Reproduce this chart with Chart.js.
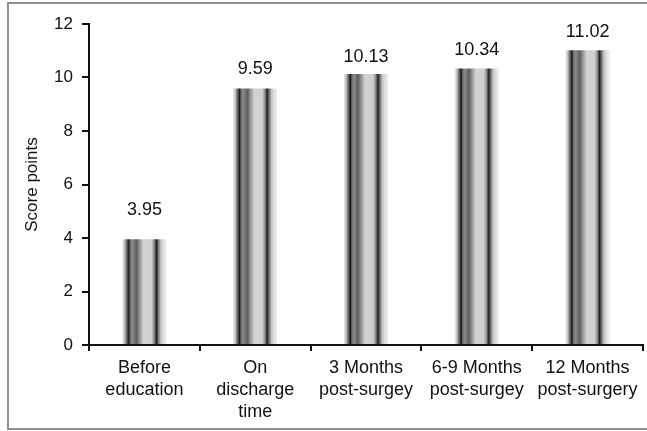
<!DOCTYPE html>
<html>
<head>
<meta charset="utf-8">
<script src="https://cdn.jsdelivr.net/npm/chart.js@4.4.0/dist/chart.umd.min.js"></script>
<style>
  html, body { margin: 0; padding: 0; background: #fff; }
  #wrap { width: 647px; height: 431px; }
</style>
</head>
<body>
<div id="wrap"><canvas id="c" width="647" height="431"></canvas></div>
<script>
// Mean score at each assessment point
const categories = [
  ["Before", "education"],
  ["On", "discharge", "time"],
  ["3 Months", "post-surgey"],
  ["6-9 Months", "post-surgey"],
  ["12 Months", "post-surgery"]
];
const scores = [3.95, 9.59, 10.13, 10.34, 11.02];
const yTicks = [0, 2, 4, 6, 8, 10, 12];

// Styling: how far each value label sits above its bar (px)
const labelLift = [29, 19, 17, 18, 18];

const FONT = "'Liberation Sans', Arial, sans-serif";
const BAR_FRACTION = 0.4;

// Cylindrical grey shading, left to right across each bar
const shadeStops = [
  [0.00, '#ececec'], [0.05, '#c4c4c4'], [0.10, '#6a6a6a'], [0.15, '#161616'],
  [0.18, '#6e6e6e'], [0.23, '#8a8a8a'], [0.32, '#5e5e5e'], [0.42, '#a8a8a8'],
  [0.48, '#d2d2d2'], [0.66, '#cfcfcf'], [0.72, '#8c8c8c'], [0.77, '#1e1e1e'],
  [0.81, '#6a6a6a'], [0.87, '#c6c6c6'], [0.94, '#e2e2e2'], [1.00, '#f0f0f0']
];

function barShade(ctx) {
  const chart = ctx.chart;
  const xs = chart.scales && chart.scales.x;
  if (!xs || ctx.dataIndex === undefined) return '#999';
  const cx = xs.getPixelForValue(ctx.dataIndex);
  const half = (xs.width / categories.length) * BAR_FRACTION / 2;
  if (!isFinite(cx) || !isFinite(half) || half <= 0) return '#999';
  const g = chart.ctx.createLinearGradient(cx - half, 0, cx + half, 0);
  shadeStops.forEach(([p, c]) => g.addColorStop(p, c));
  return g;
}

// Thin grey frame round the whole figure
const framePlugin = {
  id: 'frame',
  beforeDraw(chart) {
    const c = chart.ctx;
    c.save();
    c.strokeStyle = '#8f8f8f';
    c.lineWidth = 2;
    c.strokeRect(8, 3, 645, 426);
    c.restore();
  }
};

// Value written above each bar
const valueLabels = {
  id: 'valueLabels',
  afterDatasetsDraw(chart) {
    const c = chart.ctx;
    const meta = chart.getDatasetMeta(0);
    c.save();
    c.font = '18px ' + FONT;
    c.fillStyle = '#111';
    c.textAlign = 'center';
    c.textBaseline = 'middle';
    meta.data.forEach((bar, i) => {
      c.fillText(scores[i].toFixed(2), bar.x, bar.y - labelLift[i]);
    });
    c.restore();
  }
};

new Chart(document.getElementById('c'), {
  type: 'bar',
  data: {
    labels: categories,
    datasets: [{
      data: scores,
      backgroundColor: barShade,
      borderWidth: 0,
      barPercentage: BAR_FRACTION,
      categoryPercentage: 1.0
    }]
  },
  options: {
    responsive: false,
    animation: false,
    devicePixelRatio: 1,
    layout: { padding: { top: 24, right: 4, left: 0, bottom: 0 } },
    plugins: {
      legend: { display: false },
      tooltip: { enabled: false }
    },
    scales: {
      x: {
        afterFit(axis) { axis.height = 86; },
        grid: {
          display: true,
          offset: true,
          drawOnChartArea: false,
          drawTicks: true,
          tickLength: 6,
          color: '#111',
          lineWidth: 2
        },
        border: { display: true, color: '#111', width: 2 },
        ticks: {
          color: '#111',
          font: { family: FONT, size: 18, lineHeight: 1.22 },
          padding: 6,
          maxRotation: 0,
          autoSkip: false
        }
      },
      y: {
        min: 0,
        max: 12,
        afterFit(axis) { axis.width = 89; },
        afterBuildTicks(axis) { axis.ticks = yTicks.map(v => ({ value: v })); },
        grid: {
          display: true,
          drawOnChartArea: false,
          drawTicks: true,
          tickLength: 7,
          color: '#111',
          lineWidth: 2
        },
        border: { display: true, color: '#111', width: 2 },
        ticks: {
          color: '#111',
          font: { family: FONT, size: 17 },
          padding: 9
        },
        title: {
          display: true,
          text: 'Score points',
          color: '#111',
          font: { family: FONT, size: 17 },
          padding: { top: 22, bottom: 0 }
        }
      }
    }
  },
  plugins: [framePlugin, valueLabels]
});
</script>
</body>
</html>
